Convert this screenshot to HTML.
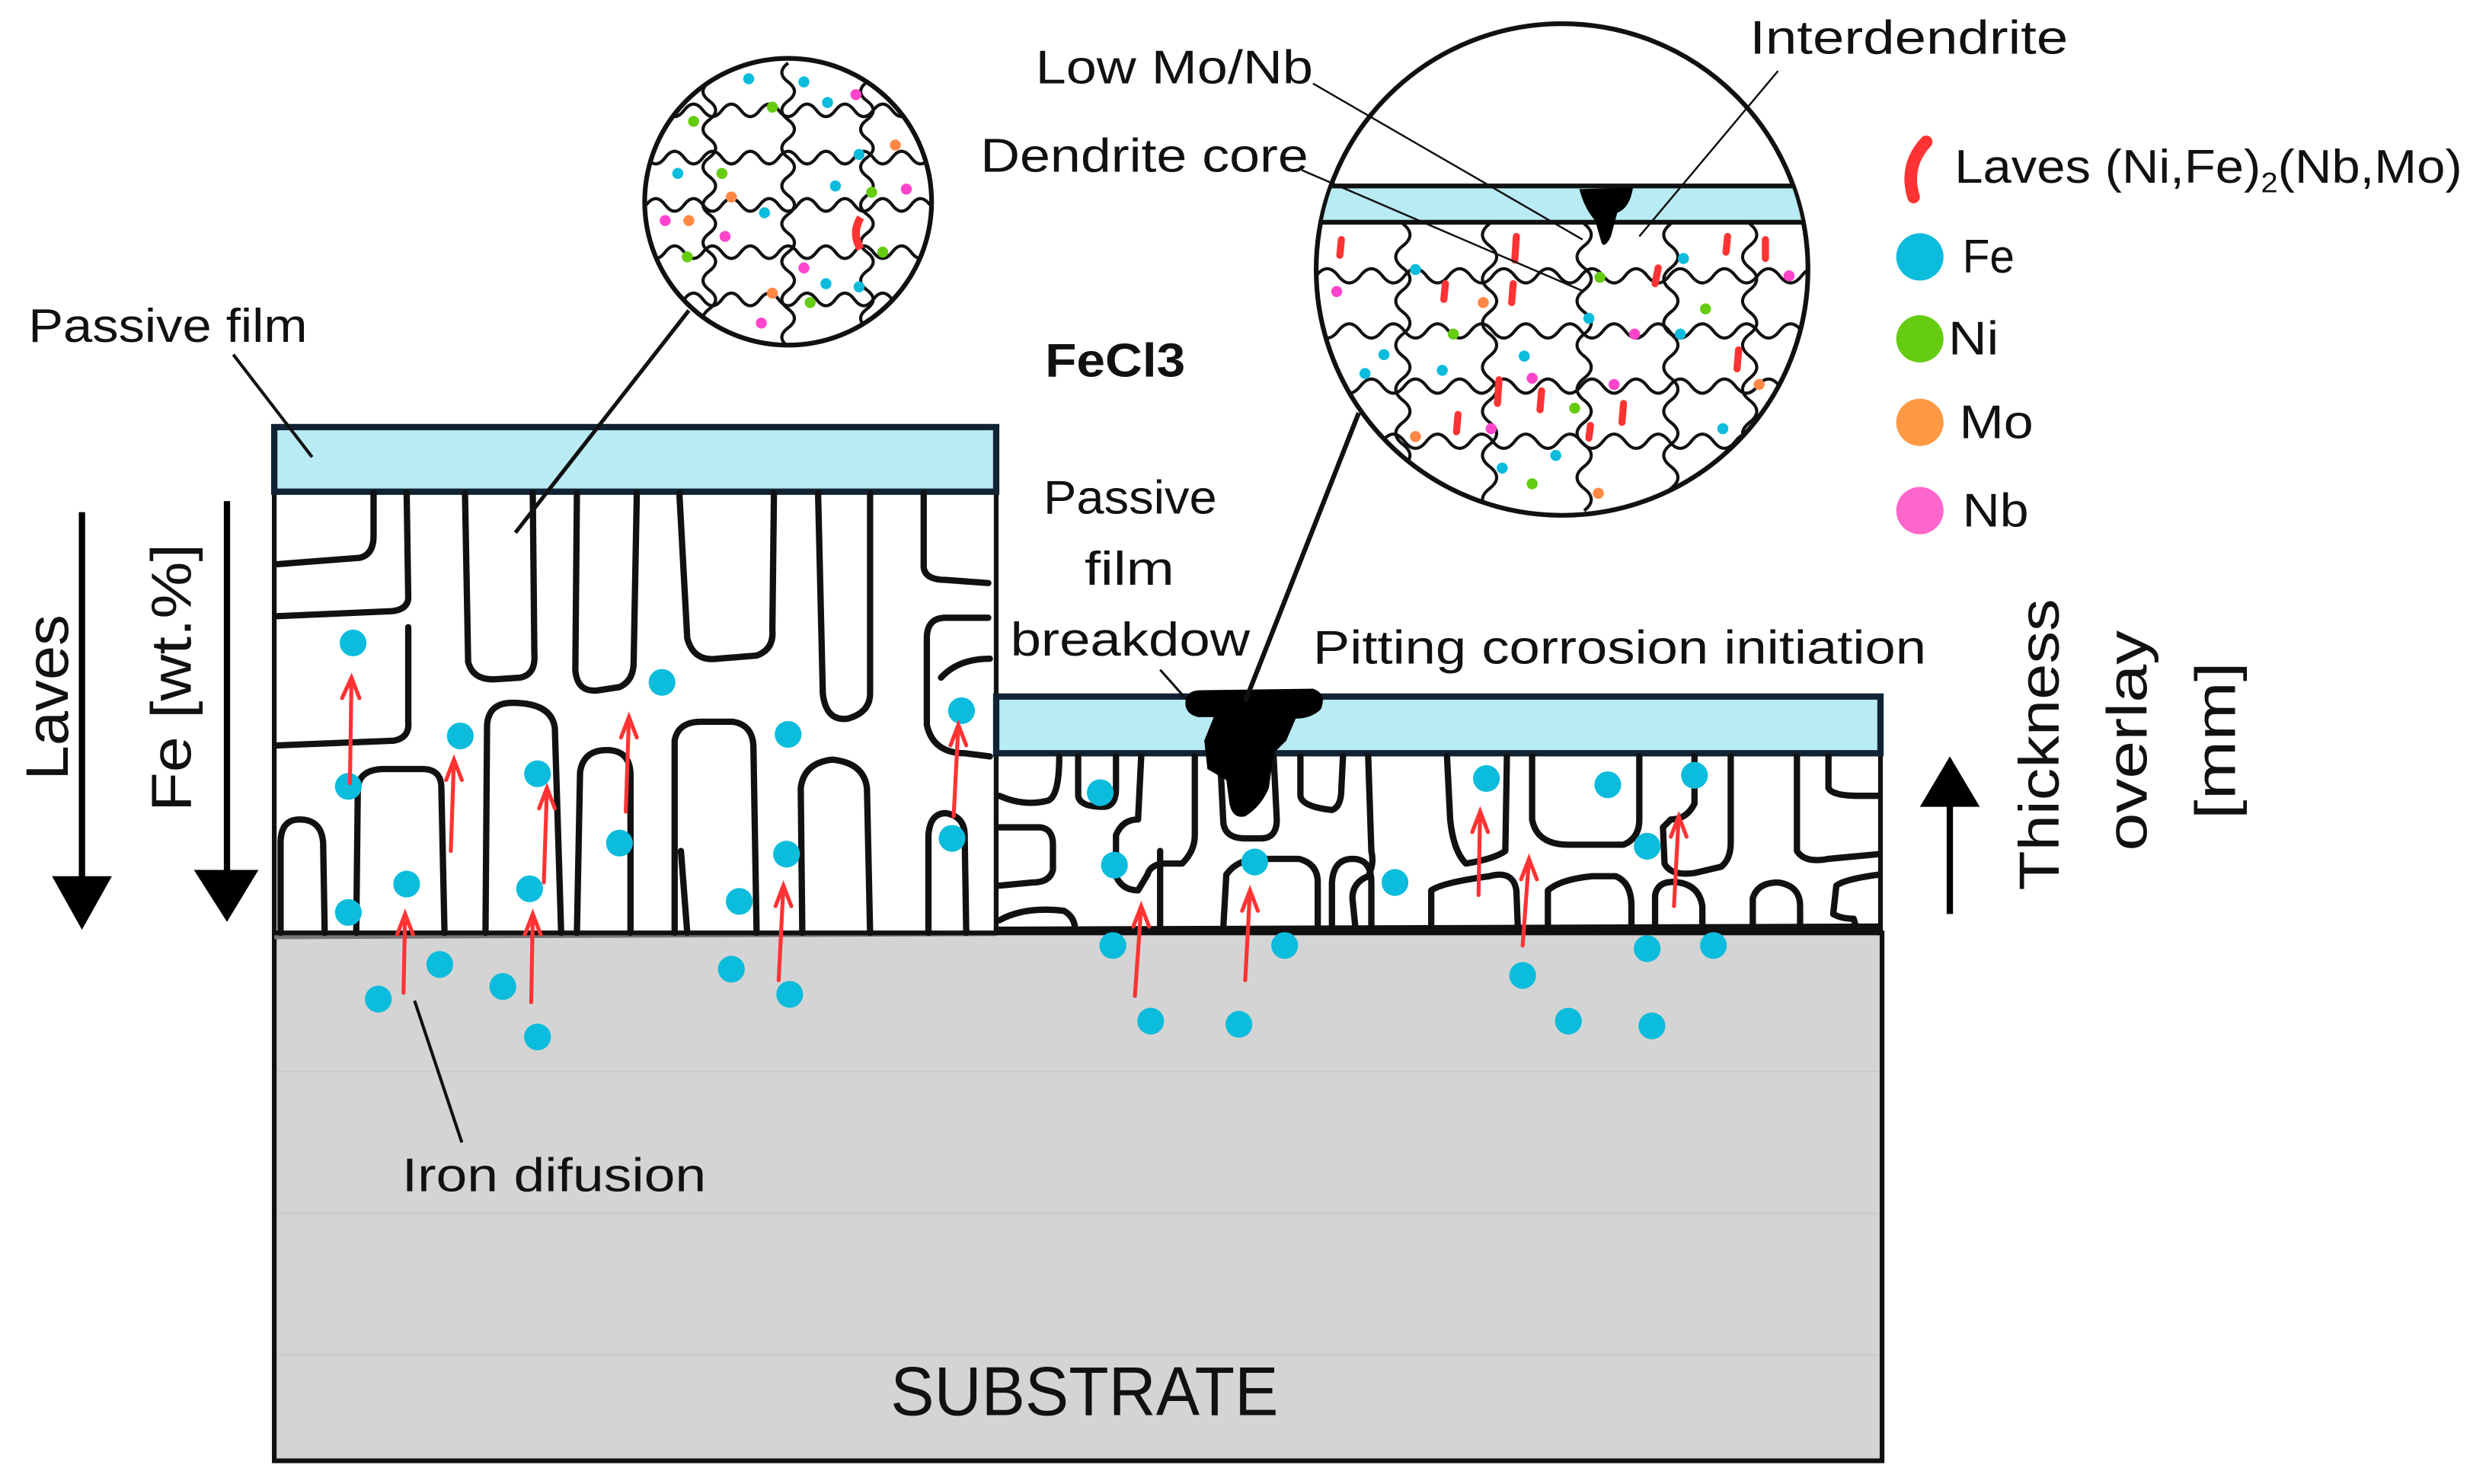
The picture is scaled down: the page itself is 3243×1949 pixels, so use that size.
<!DOCTYPE html>
<html><head><meta charset="utf-8"><style>
html,body{margin:0;padding:0;background:#fff;}
svg{display:block;}
text{font-family:"Liberation Sans","DejaVu Sans",sans-serif;fill:#111;}
</style></head><body>
<svg width="3243" height="1949" viewBox="0 0 1567 941.7" xmlns="http://www.w3.org/2000/svg">
<defs>
<clipPath id="cs"><circle cx="500" cy="128" r="90"/></clipPath>
<clipPath id="cb"><circle cx="991" cy="171" r="155"/></clipPath>
</defs>

<!-- substrate -->
<rect x="174" y="592" width="1020" height="335" fill="#d4d4d4" stroke="#111" stroke-width="3"/>
<g stroke="#c8c8c8" stroke-width="1"><line x1="176" y1="680" x2="1192" y2="680"/><line x1="176" y1="770" x2="1192" y2="770"/><line x1="176" y1="860" x2="1192" y2="860"/></g>
<line x1="174" y1="594" x2="632" y2="592" stroke="#777" stroke-width="4"/>

<!-- left block -->
<rect x="174" y="312" width="458" height="280" fill="#fff" stroke="#111" stroke-width="3"/>
<rect x="174" y="271" width="458" height="41" fill="#b8ebf3" stroke="#123" stroke-width="4"/>
<g fill="none" stroke="#111" stroke-width="4" stroke-linejoin="round" stroke-linecap="round">
<path d="M176 358 L228 354 Q237 352 237 340 L237 313"/>
<path d="M258 313 L259 380 Q258 388 245 388 L176 391"/>
<path d="M176 473 L250 470 Q260 468 259 458 L259 398"/>
<path d="M295 313 L297 420 Q300 432 315 431 L330 430 Q340 428 339 415 L338 313"/>
<path d="M366 313 L365 425 Q366 440 380 438 L393 436 Q402 432 402 420 L404 313"/>
<path d="M431 313 L436 405 Q440 420 455 418 L480 416 Q491 412 490 400 L491 313"/>
<path d="M519 313 L522 440 Q524 458 538 456 Q552 452 552 440 L552 313"/>
<path d="M586 313 L586 360 Q587 368 600 368 L627 370"/>
<path d="M627 392 L600 392 Q588 392 588 405 L588 460 Q592 478 612 478 L628 480"/>
<path d="M628 418 Q608 418 597 430"/>
<path d="M178 592 L178 535 Q178 520 190 520 Q204 520 205 535 L206 592"/>
<path d="M226 592 L227 500 Q228 488 244 488 L268 488 Q280 488 280 500 L282 592"/>
<path d="M308 592 L309 460 Q310 446 325 446 Q350 446 352 462 L356 592"/>
<path d="M366 592 L368 490 Q370 476 385 476 Q400 476 400 492 L400 592"/>
<path d="M428 592 L428 470 Q430 458 445 458 L465 458 Q478 460 478 475 L480 592"/>
<path d="M509 592 L508 500 Q510 484 528 482 Q548 484 550 500 L552 592"/>
<path d="M589 592 L589 530 Q590 516 600 516 Q612 518 612 530 L613 592"/>
<path d="M432 540 L436 592"/>
</g>

<!-- right block -->
<rect x="632" y="478" width="561" height="112" fill="#fff" stroke="#111" stroke-width="3"/>
<rect x="632" y="442" width="561" height="36" fill="#b8ebf3" stroke="#123" stroke-width="4"/>
<g fill="none" stroke="#111" stroke-width="4" stroke-linejoin="round" stroke-linecap="round">
<path d="M634 505 Q650 512 665 508 Q672 505 672 480"/>
<path d="M684 480 L684 505 Q685 512 700 512 Q708 512 708 500 L708 480"/>
<path d="M634 525 L660 525 Q668 526 668 536 L668 552 Q666 560 655 560 L634 562"/>
<path d="M634 584 Q650 575 675 578 Q682 582 682 590"/>
<path d="M724 480 L722 520 Q712 520 708 530 L708 556 Q712 565 722 565 L728 555 Q730 548 740 548 L750 548 Q758 540 758 530 L758 480"/>
<path d="M736 590 L736 540"/>
<path d="M776 590 L778 555 Q785 545 800 545 L824 545 Q836 548 836 560 L836 590"/>
<path d="M774 480 L776 520 Q776 532 790 532 L800 532 Q810 532 810 520 L808 480"/>
<path d="M825 480 L825 505 Q826 512 845 514 Q851 512 851 500 L852 480"/>
<path d="M868 480 L870 540 Q872 548 868 556 Q858 560 858 570 L860 590"/>
<path d="M845 590 L845 560 Q846 545 858 545 Q870 545 870 560 L870 590"/>
<path d="M918 480 L920 520 Q922 540 930 548 Q948 545 955 540 L956 480"/>
<path d="M908 590 L908 565 Q915 560 945 556 Q960 552 962 565 L963 590"/>
<path d="M972 480 L972 520 Q975 536 995 536 L1030 536 Q1040 532 1040 520 L1040 480"/>
<path d="M1075 480 L1075 510 Q1070 520 1060 520 L1055 525 L1056 548 Q1060 556 1075 554 L1092 550 Q1098 545 1098 535 L1098 480"/>
<path d="M1140 480 L1140 540 Q1145 548 1160 545 L1192 542"/>
<path d="M1192 555 Q1170 558 1165 562 L1163 580 Q1168 583 1176 583 L1178 590"/>
<path d="M1050 590 L1050 568 Q1052 558 1065 560 Q1078 562 1080 575 L1080 590"/>
<path d="M1112 590 L1112 570 Q1115 560 1128 560 Q1142 562 1142 575 L1142 590"/>
<path d="M982 590 L982 565 Q990 558 1010 556 L1025 556 Q1035 560 1035 575 L1035 590"/>
<path d="M1160 480 L1160 500 Q1162 505 1180 505 L1192 505"/>
</g>
<!-- pit -->
<path d="M752 446 Q752 438 762 438 L833 437 Q842 440 838 450 Q832 456 822 456 L816 470 L808 478 L805 500 Q800 512 790 518 Q782 520 780 510 L778 495 L766 488 L764 470 L770 455 L760 455 Q752 453 752 446 Z" fill="#000"/>

<line x1="632" y1="590" x2="1194" y2="588" stroke="#111" stroke-width="4"/>

<!-- Fe dots -->
<g fill="#0bbcdc">
<circle cx="224" cy="408" r="8.5"/><circle cx="221" cy="499" r="8.5"/><circle cx="292" cy="467" r="8.5"/><circle cx="341" cy="491" r="8.5"/><circle cx="420" cy="433" r="8.5"/><circle cx="500" cy="466" r="8.5"/><circle cx="393" cy="535" r="8.5"/><circle cx="499" cy="542" r="8.5"/><circle cx="610" cy="451" r="8.5"/><circle cx="604" cy="532" r="8.5"/><circle cx="258" cy="561" r="8.5"/><circle cx="336" cy="564" r="8.5"/><circle cx="221" cy="579" r="8.5"/><circle cx="469" cy="572" r="8.5"/><circle cx="279" cy="612" r="8.5"/><circle cx="319" cy="626" r="8.5"/><circle cx="240" cy="634" r="8.5"/><circle cx="341" cy="658" r="8.5"/><circle cx="464" cy="615" r="8.5"/><circle cx="501" cy="631" r="8.5"/>
<circle cx="698" cy="503" r="8.5"/><circle cx="707" cy="549" r="8.5"/><circle cx="796" cy="547" r="8.5"/><circle cx="885" cy="560" r="8.5"/><circle cx="943" cy="494" r="8.5"/><circle cx="1020" cy="498" r="8.5"/><circle cx="1075" cy="492" r="8.5"/><circle cx="1045" cy="537" r="8.5"/><circle cx="706" cy="600" r="8.5"/><circle cx="815" cy="600" r="8.5"/><circle cx="730" cy="648" r="8.5"/><circle cx="786" cy="650" r="8.5"/><circle cx="966" cy="619" r="8.5"/><circle cx="1045" cy="602" r="8.5"/><circle cx="1087" cy="600" r="8.5"/><circle cx="995" cy="648" r="8.5"/><circle cx="1048" cy="651" r="8.5"/>
</g>

<!-- red arrows -->
<g fill="none" stroke="#f33" stroke-width="2.5" stroke-linecap="round">
<path d="M222 497 L223 430 M217 443 L223 430 L228 443"/>
<path d="M286 540 L288 482 M283 495 L288 482 L293 495"/>
<path d="M345 560 L347 500 M342 513 L347 500 L352 513"/>
<path d="M397 515 L399 455 M394 468 L399 455 L404 468"/>
<path d="M605 518 L608 460 M603 473 L608 460 L613 473"/>
<path d="M256 630 L257 580 M252 593 L257 580 L262 593"/>
<path d="M337 636 L338 580 M333 593 L338 580 L343 593"/>
<path d="M494 622 L497 562 M492 575 L497 562 L502 575"/>
<path d="M720 632 L724 575 M719 588 L724 575 L729 588"/>
<path d="M790 622 L793 565 M788 578 L793 565 L798 578"/>
<path d="M938 568 L939 515 M934 528 L939 515 L944 528"/>
<path d="M966 600 L970 545 M965 558 L970 545 L975 558"/>
<path d="M1062 575 L1065 518 M1060 531 L1065 518 L1070 531"/>
</g>

<!-- small circle -->
<circle cx="500" cy="128" r="91" fill="#fff" stroke="#111" stroke-width="3"/>
<g clip-path="url(#cs)" fill="none" stroke="#111" stroke-width="2">
<path d="M410 70 q6 -8 12 0 t12 0 t12 0 t12 0 t12 0 t12 0 t12 0 t12 0 t12 0 t12 0 t12 0 t12 0 t12 0 t12 0 t12 0"/>
<path d="M410 100 q6 8 12 0 t12 0 t12 0 t12 0 t12 0 t12 0 t12 0 t12 0 t12 0 t12 0 t12 0 t12 0 t12 0 t12 0 t12 0"/>
<path d="M410 130 q6 -8 12 0 t12 0 t12 0 t12 0 t12 0 t12 0 t12 0 t12 0 t12 0 t12 0 t12 0 t12 0 t12 0 t12 0 t12 0"/>
<path d="M410 160 q6 8 12 0 t12 0 t12 0 t12 0 t12 0 t12 0 t12 0 t12 0 t12 0 t12 0 t12 0 t12 0 t12 0 t12 0 t12 0"/>
<path d="M410 190 q6 -8 12 0 t12 0 t12 0 t12 0 t12 0 t12 0 t12 0 t12 0 t12 0 t12 0 t12 0 t12 0 t12 0 t12 0 t12 0"/>
<path d="M450 40 q8 6 0 12 t0 12 t0 12 t0 12 t0 12 t0 12 t0 12 t0 12 t0 12 t0 12 t0 12 t0 12 t0 12 t0 12 t0 12"/>
<path d="M500 40 q-8 6 0 12 t0 12 t0 12 t0 12 t0 12 t0 12 t0 12 t0 12 t0 12 t0 12 t0 12 t0 12 t0 12 t0 12 t0 12"/>
<path d="M550 40 q8 6 0 12 t0 12 t0 12 t0 12 t0 12 t0 12 t0 12 t0 12 t0 12 t0 12 t0 12 t0 12 t0 12 t0 12 t0 12"/>
</g>
<g>
<circle cx="475" cy="50" r="3.5" fill="#0bbcdc"/><circle cx="510" cy="52" r="3.5" fill="#0bbcdc"/><circle cx="543" cy="60" r="3.5" fill="#f4c"/><circle cx="490" cy="68" r="3.5" fill="#6c1"/><circle cx="525" cy="65" r="3.5" fill="#0bbcdc"/><circle cx="568" cy="92" r="3.5" fill="#f84"/><circle cx="440" cy="77" r="3.5" fill="#6c1"/><circle cx="458" cy="110" r="3.5" fill="#6c1"/><circle cx="545" cy="98" r="3.5" fill="#0bbcdc"/><circle cx="530" cy="118" r="3.5" fill="#0bbcdc"/><circle cx="553" cy="122" r="3.5" fill="#6c1"/><circle cx="575" cy="120" r="3.5" fill="#f4c"/><circle cx="464" cy="125" r="3.5" fill="#f84"/><circle cx="422" cy="140" r="3.5" fill="#f4c"/><circle cx="437" cy="140" r="3.5" fill="#f84"/><circle cx="460" cy="150" r="3.5" fill="#f4c"/><circle cx="485" cy="135" r="3.5" fill="#0bbcdc"/><circle cx="436" cy="163" r="3.5" fill="#6c1"/><circle cx="510" cy="170" r="3.5" fill="#f4c"/><circle cx="524" cy="180" r="3.5" fill="#0bbcdc"/><circle cx="490" cy="186" r="3.5" fill="#f84"/><circle cx="514" cy="192" r="3.5" fill="#6c1"/><circle cx="545" cy="182" r="3.5" fill="#0bbcdc"/><circle cx="483" cy="205" r="3.5" fill="#f4c"/><circle cx="560" cy="160" r="3.5" fill="#6c1"/><circle cx="430" cy="110" r="3.5" fill="#0bbcdc"/>
<path d="M546 138 Q540 148 546 158" stroke="#f33" stroke-width="5" fill="none"/>
</g>

<!-- big circle -->
<circle cx="991" cy="171" r="156" fill="#fff" stroke="#111" stroke-width="3"/>
<g clip-path="url(#cb)">
<rect x="830" y="118" width="320" height="22" fill="#b8ebf3"/>
<line x1="830" y1="118" x2="1150" y2="118" stroke="#111" stroke-width="3"/>
<line x1="830" y1="141" x2="1150" y2="141" stroke="#111" stroke-width="3"/>
<g fill="none" stroke="#111" stroke-width="2">
<path d="M835 175 q7 -9 14 0 t14 0 t14 0 t14 0 t14 0 t14 0 t14 0 t14 0 t14 0 t14 0 t14 0 t14 0 t14 0 t14 0 t14 0 t14 0 t14 0 t14 0 t14 0 t14 0 t14 0 t14 0 t14 0"/>
<path d="M835 210 q7 9 14 0 t14 0 t14 0 t14 0 t14 0 t14 0 t14 0 t14 0 t14 0 t14 0 t14 0 t14 0 t14 0 t14 0 t14 0 t14 0 t14 0 t14 0 t14 0 t14 0 t14 0 t14 0 t14 0"/>
<path d="M835 245 q7 -9 14 0 t14 0 t14 0 t14 0 t14 0 t14 0 t14 0 t14 0 t14 0 t14 0 t14 0 t14 0 t14 0 t14 0 t14 0 t14 0 t14 0 t14 0 t14 0 t14 0 t14 0 t14 0 t14 0"/>
<path d="M835 280 q7 9 14 0 t14 0 t14 0 t14 0 t14 0 t14 0 t14 0 t14 0 t14 0 t14 0 t14 0 t14 0 t14 0 t14 0 t14 0 t14 0 t14 0 t14 0 t14 0 t14 0 t14 0 t14 0 t14 0"/>
<path d="M890 142 q9 7 0 14 t0 14 t0 14 t0 14 t0 14 t0 14 t0 14 t0 14 t0 14 t0 14 t0 14 t0 14 t0 14"/>
<path d="M945 142 q-9 7 0 14 t0 14 t0 14 t0 14 t0 14 t0 14 t0 14 t0 14 t0 14 t0 14 t0 14 t0 14 t0 14"/>
<path d="M1005 142 q9 7 0 14 t0 14 t0 14 t0 14 t0 14 t0 14 t0 14 t0 14 t0 14 t0 14 t0 14 t0 14 t0 14"/>
<path d="M1060 142 q-9 7 0 14 t0 14 t0 14 t0 14 t0 14 t0 14 t0 14 t0 14 t0 14 t0 14 t0 14 t0 14 t0 14"/>
<path d="M1110 142 q9 7 0 14 t0 14 t0 14 t0 14 t0 14 t0 14 t0 14 t0 14 t0 14 t0 14"/>
</g>
<g>
<circle cx="898" cy="171" r="3.5" fill="#0bbcdc"/><circle cx="1015" cy="176" r="3.5" fill="#6c1"/><circle cx="1068" cy="164" r="3.5" fill="#0bbcdc"/><circle cx="1135" cy="175" r="3.5" fill="#f4c"/><circle cx="848" cy="185" r="3.5" fill="#f4c"/><circle cx="941" cy="192" r="3.5" fill="#f84"/><circle cx="1082" cy="196" r="3.5" fill="#6c1"/><circle cx="1008" cy="202" r="3.5" fill="#0bbcdc"/><circle cx="922" cy="212" r="3.5" fill="#6c1"/><circle cx="1037" cy="212" r="3.5" fill="#f4c"/><circle cx="1066" cy="212" r="3.5" fill="#0bbcdc"/><circle cx="878" cy="225" r="3.5" fill="#0bbcdc"/><circle cx="866" cy="237" r="3.5" fill="#0bbcdc"/><circle cx="915" cy="235" r="3.5" fill="#0bbcdc"/><circle cx="967" cy="226" r="3.5" fill="#0bbcdc"/><circle cx="1024" cy="244" r="3.5" fill="#f4c"/><circle cx="1116" cy="244" r="3.5" fill="#f84"/><circle cx="972" cy="240" r="3.5" fill="#f4c"/><circle cx="999" cy="259" r="3.5" fill="#6c1"/><circle cx="946" cy="272" r="3.5" fill="#f4c"/><circle cx="1093" cy="272" r="3.5" fill="#0bbcdc"/><circle cx="898" cy="277" r="3.5" fill="#f84"/><circle cx="987" cy="289" r="3.5" fill="#0bbcdc"/><circle cx="953" cy="297" r="3.5" fill="#0bbcdc"/><circle cx="972" cy="307" r="3.5" fill="#6c1"/><circle cx="1014" cy="313" r="3.5" fill="#f84"/>
</g>
<g stroke="#f33" stroke-width="4.5" fill="none" stroke-linecap="round">
<path d="M851 152 L850 162"/><path d="M962 150 L961 165"/><path d="M1052 170 L1050 180"/><path d="M917 180 L916 190"/><path d="M960 180 L959 192"/><path d="M1096 150 L1095 160"/><path d="M1120 152 L1120 164"/><path d="M951 241 L950 256"/><path d="M1103 222 L1102 234"/><path d="M978 248 L977 260"/><path d="M1030 256 L1029 268"/><path d="M1009 270 L1008 278"/><path d="M925 263 L924 274"/>
</g>
<path d="M1002 120 L1036 119 Q1034 132 1026 135 L1022 150 Q1018 158 1016 154 L1012 140 Q1005 132 1002 120 Z" fill="#000"/>
</g>

<!-- leaders -->
<g stroke="#111" fill="none">
<line x1="148" y1="225" x2="198" y2="290" stroke-width="2"/>
<line x1="437" y1="197" x2="327" y2="338" stroke-width="2.5"/>
<line x1="862" y1="262" x2="790" y2="445" stroke-width="3"/>
<line x1="263" y1="635" x2="293" y2="725" stroke-width="2"/>
<line x1="736" y1="425" x2="752" y2="443" stroke-width="1.5"/>
<line x1="833" y1="53" x2="1004" y2="152" stroke-width="1.2"/>
<line x1="1128" y1="45" x2="1040" y2="150" stroke-width="1.2"/>
<line x1="826" y1="108" x2="1005" y2="185" stroke-width="1.2"/>
</g>

<!-- arrows -->
<g stroke="#000" stroke-width="4">
<line x1="52" y1="325" x2="52" y2="565"/>
<line x1="144" y1="318" x2="144" y2="560"/>
<line x1="1237" y1="505" x2="1237" y2="580"/>
</g>
<path d="M33 556 L71 556 L52 590 Z" fill="#000"/>
<path d="M123 552 L164 552 L144 585 Z" fill="#000"/>
<path d="M1218 512 L1256 512 L1237 480 Z" fill="#000"/>

<!-- texts -->
<text x="18" y="217" font-size="30" textLength="177" lengthAdjust="spacingAndGlyphs">Passive film</text>
<text x="663" y="239" font-size="30" font-weight="bold" textLength="89" lengthAdjust="spacingAndGlyphs">FeCl3</text>
<text x="657" y="53" font-size="30" textLength="176" lengthAdjust="spacingAndGlyphs">Low Mo/Nb</text>
<text x="1110" y="34" font-size="30" textLength="202" lengthAdjust="spacingAndGlyphs">Interdendrite</text>
<text x="622" y="109" font-size="30" textLength="208" lengthAdjust="spacingAndGlyphs">Dendrite core</text>
<text x="662" y="326" font-size="30" textLength="110" lengthAdjust="spacingAndGlyphs">Passive</text>
<text x="688" y="371" font-size="30" textLength="57" lengthAdjust="spacingAndGlyphs">film</text>
<text x="641" y="416" font-size="30" textLength="152" lengthAdjust="spacingAndGlyphs">breakdow</text>
<text x="833" y="421" font-size="30" textLength="389" lengthAdjust="spacingAndGlyphs">Pitting corrosion initiation</text>
<text x="565" y="898" font-size="44" textLength="246" lengthAdjust="spacingAndGlyphs">SUBSTRATE</text>
<text x="255" y="756" font-size="30" textLength="193" lengthAdjust="spacingAndGlyphs">Iron difusion</text>
<text font-size="38" transform="translate(43,495) rotate(-90)" textLength="105" lengthAdjust="spacingAndGlyphs">Laves</text>
<text font-size="36" transform="translate(121,515) rotate(-90)" textLength="170" lengthAdjust="spacingAndGlyphs">Fe [wt.%]</text>
<text font-size="36" transform="translate(1306,565) rotate(-90)" textLength="185" lengthAdjust="spacingAndGlyphs">Thickness</text>
<text font-size="36" transform="translate(1362,540) rotate(-90)" textLength="140" lengthAdjust="spacingAndGlyphs">overlay</text>
<text font-size="36" transform="translate(1418,520) rotate(-90)" textLength="100" lengthAdjust="spacingAndGlyphs">[mm]</text>

<!-- legend -->
<path d="M1222 90 Q1208 105 1214 125" stroke="#f33" stroke-width="8" fill="none" stroke-linecap="round"/>
<text x="1240" y="116" font-size="30" textLength="322" lengthAdjust="spacingAndGlyphs">Laves (Ni,Fe)<tspan font-size="18" dy="6">2</tspan><tspan dy="-6">(Nb,Mo)</tspan></text>
<circle cx="1218" cy="163" r="15" fill="#0bbcdc"/><text x="1245" y="173" font-size="30" textLength="33" lengthAdjust="spacingAndGlyphs">Fe</text>
<circle cx="1218" cy="215" r="15" fill="#6c1"/><text x="1236" y="225" font-size="30" textLength="32" lengthAdjust="spacingAndGlyphs">Ni</text>
<circle cx="1218" cy="268" r="15" fill="#f94"/><text x="1243" y="278" font-size="30" textLength="47" lengthAdjust="spacingAndGlyphs">Mo</text>
<circle cx="1218" cy="324" r="15" fill="#f6c"/><text x="1245" y="334" font-size="30" textLength="42" lengthAdjust="spacingAndGlyphs">Nb</text>
</svg>
</body></html>
